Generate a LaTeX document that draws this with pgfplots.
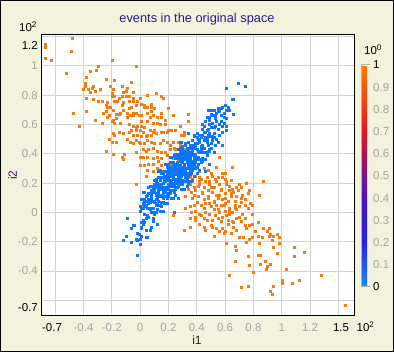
\documentclass[border=0pt]{standalone}
\usepackage{pgfplots}
\pgfplotsset{compat=1.18}
\usepackage{fontspec}
\setmainfont{Liberation Sans}
\definecolor{bgc}{RGB}{243,242,220}
\definecolor{orng}{RGB}{255,120,10}
\definecolor{blu}{RGB}{10,118,255}
\definecolor{ttl}{RGB}{40,30,140}
\definecolor{ylab}{RGB}{75,25,90}
\definecolor{tkl}{RGB}{165,165,165}
\newcommand\tickfont{\fontsize{11.5bp}{13bp}\selectfont}
\begin{document}
\begin{tikzpicture}
\useasboundingbox (0,0) rectangle (394bp,352bp);
\fill[bgc] (0,0) rectangle (394bp,352bp);
\draw[black, line width=1bp] (0.5bp,0.5bp) rectangle (393.5bp,351.5bp);
\begin{axis}[
  name=main,
  at={(41bp,37bp)}, anchor=south west,
  width=313bp, height=280bp, scale only axis,
  xmin=-0.70, xmax=1.51, ymin=-0.70, ymax=1.21,
  axis background/.style={fill=white},
  axis line style={line width=1bp},
  xtick={-0.6,-0.4,-0.2,0,0.2,0.4,0.6,0.8,1,1.2,1.4},
  xticklabels={,-0.4,-0.2,0,0.2,0.4,0.6,0.8,1,1.2,},
  ytick={-0.6,-0.4,-0.2,0,0.2,0.4,0.6,0.8,1,1.2},
  yticklabels={,-0.4,-0.2,0,0.2,0.4,0.6,0.8,1,},
  major tick length=0pt,
  grid=major,
  major grid style={line width=1bp, draw=gray!35},
  xticklabel style={font=\tickfont, text=tkl, anchor=base, inner sep=0pt, yshift=-16.5bp},
  yticklabel style={font=\tickfont, text=tkl, anchor=east, inner sep=0pt, xshift=-3bp},
  colormap={cm}{rgb255(0)=(25,140,255) rgb255(2)=(35,35,235) rgb255(4)=(75,20,190) rgb255(5)=(120,20,140) rgb255(6)=(175,20,85) rgb255(7)=(230,20,35) rgb255(10)=(255,125,0)},
  colorbar,
  point meta min=0, point meta max=1,
  colorbar shift/.style={xshift=7bp, yshift=28bp},
  colorbar style={
    width=6bp, height=222bp, scale only axis,
    at={(parent axis.south east)}, anchor=south west,
    ytick={0,0.1,0.2,0.3,0.4,0.5,0.6,0.7,0.8,0.9,1},
    yticklabels={\textcolor{black}{0},0.1,0.2,0.3,0.4,0.5,0.6,0.7,0.8,0.9,\textcolor{black}{1}},
    yticklabel style={font=\tickfont, text=tkl, anchor=west, inner sep=0pt, xshift=6bp},
    major tick length=0pt,
    axis line style={draw=none},
    after end axis/.code={
      \draw[gray!60, line width=1bp] (rel axis cs:0,1) -- ++(9bp,0);
      \draw[gray!60, line width=1bp] (rel axis cs:0,1) -- (rel axis cs:0,0) -- ++(9bp,0);
    },
  },
]
% class 1 (orange)
\addplot[only marks, mark=square*, mark size=1bp, orng, mark options={line width=0.3bp}] coordinates {
(-0.67,1.15) (-0.67,1.13) (-0.48,1.19) (-0.67,1.05) (-0.63,1.04) (-0.49,1.10) (-0.20,1.04) (-0.03,1.00) (-0.30,1.00) (-0.31,0.97) (-0.35,0.96) (-0.52,0.95) (-0.38,0.92) (-0.24,0.91) (-0.18,0.90) (-0.39,0.88) (-0.06,0.89) (-0.39,0.86) (-0.33,0.86) (-0.34,0.85) (-0.32,0.83) (-0.37,0.84) (-0.40,0.84) (-0.28,0.84) (-0.35,0.82) (-0.21,0.86) (-0.19,0.84) (-0.13,0.86) (-0.10,0.83) (-0.12,0.82) (-0.09,0.85) (-0.05,0.82) (-0.20,0.81) (-0.20,0.79) (-0.18,0.79) (-0.15,0.78) (-0.13,0.79) (-0.10,0.79) (-0.08,0.79) (-0.05,0.78) (0.00,0.78) (-0.38,0.78) (-0.33,0.77) (-0.30,0.76) (-0.27,0.76) (-0.23,0.75) (-0.18,0.76) (-0.16,0.76) (-0.12,0.75) (-0.08,0.76) (-0.05,0.76) (-0.02,0.76) (0.01,0.74) (0.03,0.73) (-0.24,0.73) (-0.23,0.72) (-0.21,0.72) (-0.13,0.73) (-0.06,0.72) (-0.03,0.73) (0.03,0.72) (-0.38,0.69) (-0.47,0.68) (-0.26,0.68) (-0.24,0.69) (-0.19,0.70) (-0.17,0.67) (-0.15,0.67) (-0.14,0.68) (-0.12,0.70) (-0.09,0.68) (-0.08,0.71) (-0.05,0.68) (-0.03,0.68) (-0.23,0.65) (-0.22,0.66) (-0.19,0.63) (-0.17,0.64) (-0.09,0.65) (-0.07,0.66) (-0.05,0.66) (-0.01,0.66) (0.01,0.66) (0.01,0.62) (-0.32,0.63) (-0.27,0.61) (-0.20,0.62) (-0.18,0.61) (-0.14,0.61) (-0.43,0.59) (-0.08,0.60) (-0.05,0.59) (-0.03,0.58) (-0.02,0.59) (0.01,0.59) (0.03,0.58) (-0.06,0.56) (-0.03,0.56) (0.00,0.56) (0.02,0.55) (-0.19,0.54) (-0.15,0.55) (-0.18,0.53) (-0.12,0.54) (-0.08,0.55) (-0.05,0.53) (-0.02,0.53) (0.01,0.52) (0.04,0.52) (-0.22,0.50) (-0.20,0.48) (-0.17,0.48) (-0.09,0.50) (-0.07,0.48) (-0.05,0.47) (-0.03,0.49) (-0.01,0.48) (0.00,0.47) (0.03,0.47) (-0.24,0.42) (-0.19,0.40) (-0.13,0.38) (-0.11,0.40) (-0.12,0.36) (-0.03,0.41) (0.00,0.38) (0.02,0.43) (0.04,0.42) (0.02,0.38) (0.00,0.32) (0.03,0.32)
(0.05,0.80) (0.11,0.81) (0.15,0.79) (0.16,0.78) (0.05,0.72) (0.08,0.74) (0.08,0.72) (0.10,0.71) (0.05,0.68) (0.08,0.69) (0.07,0.65) (0.09,0.66) (0.12,0.65) (0.15,0.68) (0.15,0.65) (0.20,0.71) (0.23,0.66) (0.34,0.67) (0.34,0.62) (0.05,0.62) (0.09,0.61) (0.12,0.61) (0.14,0.60) (0.18,0.63) (0.18,0.60) (0.28,0.59) (0.20,0.56)
(0.07,0.56) (0.09,0.55) (0.10,0.56) (0.05,0.53) (0.08,0.53) (0.11,0.54) (0.15,0.55) (0.16,0.55) (0.19,0.55) (0.22,0.56) (0.25,0.56) (0.31,0.55) (0.31,0.53) (0.29,0.53) (0.05,0.49) (0.08,0.48) (0.10,0.47) (0.14,0.47) (0.16,0.49) (0.19,0.48) (0.21,0.46) (0.23,0.48) (0.27,0.48) (0.28,0.46) (0.24,0.44) (0.09,0.44) (0.06,0.43) (0.12,0.42) (0.15,0.41) (0.18,0.41) (0.21,0.43) (0.25,0.43) (0.28,0.41) (0.31,0.43) (0.34,0.40) (0.05,0.38) (0.09,0.37) (0.12,0.38) (0.15,0.37) (0.19,0.39) (0.23,0.37) (0.27,0.36) (0.30,0.35) (0.32,0.39) (0.06,0.33) (0.09,0.33) (0.13,0.35) (0.15,0.32) (0.18,0.33) (0.21,0.32) (0.24,0.32) (0.28,0.31) (0.31,0.32) (0.05,0.29) (0.09,0.28) (0.12,0.30) (0.16,0.28) (0.19,0.27) (0.23,0.28) (0.26,0.27) (0.29,0.30)
(0.56,0.38) (0.65,0.31) (0.54,0.31) (0.58,0.27) (0.60,0.27) (0.48,0.29) (0.50,0.27) (0.42,0.28) (0.45,0.30)
(-0.03,0.19) (0.04,0.25) (0.02,0.05)
(0.35,0.24) (0.39,0.25) (0.43,0.23) (0.47,0.24) (0.51,0.25) (0.55,0.24) (0.60,0.23) (0.64,0.22) (0.32,0.22) (0.37,0.21) (0.42,0.21) (0.49,0.21) (0.54,0.21) (0.58,0.24)
(0.35,0.19) (0.38,0.17) (0.42,0.19) (0.45,0.17) (0.49,0.19) (0.52,0.17) (0.56,0.19) (0.61,0.19) (0.65,0.16) (0.68,0.17) (0.71,0.17) (0.75,0.20) (0.77,0.15) (0.34,0.16)
(0.36,0.14) (0.39,0.15) (0.44,0.13) (0.48,0.15) (0.51,0.14) (0.54,0.12) (0.57,0.15) (0.60,0.13) (0.63,0.15) (0.66,0.14) (0.69,0.15) (0.72,0.12) (0.76,0.13)
(0.32,0.11) (0.37,0.10) (0.41,0.11) (0.45,0.09) (0.48,0.10) (0.52,0.08) (0.55,0.10) (0.58,0.09) (0.62,0.08) (0.64,0.11) (0.67,0.08) (0.71,0.10) (0.74,0.09) (0.78,0.06)
(0.35,0.04) (0.38,0.05) (0.43,0.05) (0.46,0.06) (0.50,0.04) (0.54,0.05) (0.57,0.05) (0.60,0.06) (0.63,0.03) (0.67,0.05) (0.70,0.04) (0.74,0.05) (0.76,0.03)
(0.32,0.03) (0.36,0.00) (0.39,0.01) (0.42,-0.01) (0.46,0.00) (0.49,-0.01) (0.52,0.02) (0.56,0.00) (0.60,0.01) (0.63,-0.01) (0.65,0.00) (0.68,0.02) (0.72,-0.01)
(0.23,-0.02) (0.35,-0.04) (0.39,-0.03) (0.45,-0.04) (0.51,-0.05) (0.55,-0.04) (0.58,-0.03) (0.62,-0.05) (0.65,-0.06) (0.68,-0.04) (0.71,-0.06)
(0.42,-0.08) (0.35,-0.10) (0.45,-0.10) (0.50,-0.09) (0.54,-0.11) (0.58,-0.11) (0.62,-0.08) (0.66,-0.10) (0.75,-0.11) (0.74,-0.09) (0.77,-0.09)
(0.31,-0.12) (0.52,-0.16) (0.56,-0.13) (0.59,-0.14) (0.64,-0.14) (0.70,-0.17) (0.73,-0.17) (0.75,-0.20) (0.77,-0.18) (0.61,-0.21)
(0.67,-0.23) (0.68,-0.26) (0.67,-0.33) (0.63,-0.43) (0.76,-0.30) (0.77,-0.36) (0.71,-0.51) (0.76,-0.50)
(0.37,0.23) (0.41,0.18) (0.46,0.21) (0.50,0.17) (0.53,0.23) (0.57,0.16) (0.61,0.21) (0.44,0.14) (0.48,0.11) (0.52,0.07) (0.56,0.12) (0.60,0.10) (0.64,0.13) (0.68,0.11) (0.40,0.07) (0.45,0.03) (0.49,0.06) (0.55,0.02) (0.59,0.05) (0.63,0.01) (0.67,0.03) (0.71,0.07) (0.43,-0.02) (0.47,-0.05) (0.53,-0.02) (0.57,-0.06) (0.61,-0.02) (0.66,-0.07) (0.70,-0.03) (0.74,-0.04) (0.38,0.12) (0.42,0.24) (0.58,0.24) (0.63,0.18) (0.70,0.19) (0.51,-0.10) (0.60,-0.13) (0.68,-0.12) (0.46,-0.12) (0.39,-0.05)
(0.87,0.21) (0.84,0.12) (0.79,0.05) (0.79,-0.01) (0.83,-0.07) (0.79,-0.08) (0.87,-0.11) (0.91,-0.11) (0.81,-0.13) (0.90,-0.13) (0.83,-0.16) (0.92,-0.15) (0.91,-0.16) (0.94,-0.16) (0.97,-0.15) (0.79,-0.17) (0.86,-0.17) (0.98,-0.17) (0.93,-0.19) (0.84,-0.21) (0.98,-0.21) (1.09,-0.24) (0.94,-0.24) (1.16,-0.27) (0.83,-0.29) (0.85,-0.29) (1.09,-0.30) (0.97,-0.28) (0.88,-0.33) (0.85,-0.35) (0.92,-0.35) (0.90,-0.37) (0.89,-0.39) (1.03,-0.39) (0.80,-0.41) (1.28,-0.43) (1.00,-0.46) (1.12,-0.46) (1.00,-0.48) (1.07,-0.48) (0.94,-0.50) (0.92,-0.54) (0.93,-0.56) (1.45,-0.63)
};
% class 0 (blue)
\addplot[only marks, mark=square*, mark size=1bp, blu, mark options={line width=0.3bp}] coordinates {
(0.69,0.88) (0.74,0.86) (0.61,0.85) (0.65,0.77) (0.66,0.77) (0.60,0.73) (0.58,0.72) (0.57,0.71) (0.55,0.70) (0.62,0.72) (0.61,0.70) (0.63,0.70) (0.66,0.67) (0.54,0.68) (0.50,0.70) (0.48,0.70) (0.51,0.66) (0.57,0.66) (0.59,0.65) (0.61,0.64) (0.47,0.65) (0.49,0.65) (0.46,0.62) (0.49,0.63) (0.54,0.62) (0.59,0.61) (0.56,0.60) (0.61,0.59) (0.61,0.56) (0.58,0.55) (0.53,0.59) (0.50,0.58) (0.48,0.57) (0.46,0.55) (0.44,0.60) (0.52,0.54) (0.51,0.50) (0.48,0.53) (0.45,0.50) (0.42,0.49) (0.38,0.52) (0.47,0.48) (0.58,0.46) (0.44,0.46) (0.39,0.45) (0.35,0.46) (0.32,0.46) (0.37,0.42) (0.43,0.41) (0.49,0.42) (0.47,0.39) (0.41,0.38) (0.36,0.39) (0.32,0.40) (0.28,0.40) (0.30,0.37) (0.34,0.35) (0.39,0.35) (0.44,0.35) (0.49,0.33) (0.28,0.32) (0.24,0.33) (0.22,0.31) (0.25,0.29) (0.31,0.30) (0.37,0.31) (0.42,0.29) (0.46,0.28) (0.35,0.27) (0.29,0.27) (0.23,0.27)
(0.04,0.08) (0.03,0.07) (0.01,0.03) (0.00,0.01) (0.04,-0.04) (-0.09,-0.04) (-0.05,-0.09) (-0.04,-0.09) (-0.06,-0.11) (0.01,-0.07) (0.02,-0.08) (0.01,-0.10) (0.01,-0.11) (0.04,-0.12) (0.03,-0.07) (-0.02,-0.14) (-0.01,-0.15) (0.01,-0.16) (0.04,-0.17) (-0.10,-0.16) (-0.12,-0.19) (-0.06,-0.20) (-0.03,-0.18) (-0.02,-0.19) (0.00,-0.18) (0.00,-0.22) (-0.02,-0.29)
(0.12,-0.08) (0.09,-0.06) (0.08,-0.10) (0.07,-0.12) (0.05,-0.17) (0.05,-0.02) (0.10,-0.01) (0.07,0.03) (0.24,0.00) (0.06,-0.03) (0.09,-0.04) (0.03,-0.01) (0.11,0.00) (0.02,-0.05)
(0.07,0.02) (0.10,0.00) (0.03,0.04) (0.14,0.01) (0.05,0.03) (0.12,0.02) (0.00,0.04) (0.08,0.00) (0.02,0.03) (0.16,0.01)
(0.10,0.07) (0.13,0.05) (0.06,0.09) (0.17,0.06) (0.08,0.08) (0.15,0.07) (0.03,0.09) (0.11,0.05) (0.05,0.08) (0.19,0.06) (0.07,0.07) (0.14,0.05) (0.01,0.09) (0.12,0.06) (0.09,0.08) (0.16,0.07)
(0.19,0.11) (0.07,0.13) (0.15,0.12) (0.09,0.14) (0.23,0.10) (0.11,0.13) (0.18,0.11) (0.05,0.12) (0.16,0.10) (0.13,0.14) (0.20,0.11) (0.08,0.13) (0.25,0.12) (0.03,0.14) (0.22,0.10) (0.06,0.13) (0.17,0.11) (0.11,0.12) (0.27,0.10) (0.02,0.14) (0.14,0.11) (0.19,0.13)
(0.15,0.19) (0.22,0.15) (0.09,0.18) (0.20,0.16) (0.17,0.17) (0.24,0.15) (0.12,0.19) (0.29,0.16) (0.07,0.18) (0.26,0.17) (0.10,0.19) (0.21,0.15) (0.15,0.18) (0.31,0.16) (0.06,0.17) (0.18,0.15) (0.23,0.19) (0.13,0.16) (0.20,0.18) (0.16,0.17) (0.28,0.19) (0.08,0.15) (0.24,0.18) (0.14,0.16) (0.18,0.17) (0.21,0.15) (0.14,0.19) (0.25,0.16)
(0.28,0.20) (0.16,0.24) (0.33,0.21) (0.11,0.23) (0.30,0.22) (0.14,0.24) (0.25,0.20) (0.19,0.23) (0.35,0.21) (0.10,0.22) (0.22,0.20) (0.27,0.24) (0.17,0.21) (0.24,0.23) (0.20,0.22) (0.32,0.24) (0.12,0.20) (0.28,0.23) (0.18,0.21) (0.22,0.22) (0.25,0.20) (0.18,0.24) (0.29,0.21) (0.20,0.23) (0.27,0.22) (0.15,0.24) (0.23,0.20) (0.17,0.23) (0.31,0.21) (0.19,0.22) (0.26,0.20) (0.13,0.24)
(0.17,0.28) (0.28,0.27) (0.22,0.29) (0.38,0.25) (0.13,0.28) (0.25,0.26) (0.30,0.27) (0.20,0.25) (0.27,0.29) (0.23,0.26) (0.35,0.28) (0.15,0.27) (0.31,0.29) (0.21,0.25) (0.25,0.28) (0.28,0.26) (0.21,0.27) (0.32,0.25) (0.23,0.29) (0.30,0.26) (0.18,0.28) (0.26,0.27) (0.20,0.29) (0.34,0.25) (0.22,0.28) (0.29,0.26) (0.16,0.27) (0.27,0.25) (0.24,0.29) (0.31,0.26) (0.19,0.28) (0.36,0.27) (0.14,0.29) (0.33,0.25)
(0.29,0.30) (0.34,0.33) (0.24,0.31) (0.31,0.32) (0.27,0.30) (0.39,0.34) (0.19,0.31) (0.35,0.33) (0.25,0.32) (0.29,0.34) (0.32,0.30) (0.25,0.33) (0.36,0.31) (0.27,0.32) (0.34,0.30) (0.22,0.34) (0.30,0.31) (0.24,0.33) (0.38,0.32) (0.26,0.34) (0.33,0.30) (0.20,0.33) (0.31,0.31) (0.28,0.32) (0.35,0.30) (0.23,0.34) (0.40,0.31) (0.18,0.33) (0.37,0.32) (0.21,0.34) (0.32,0.30) (0.26,0.33)
(0.29,0.39) (0.40,0.36) (0.31,0.38) (0.38,0.37) (0.26,0.39) (0.34,0.35) (0.28,0.38) (0.42,0.36) (0.30,0.37) (0.37,0.35) (0.24,0.39) (0.35,0.36) (0.32,0.38) (0.39,0.37) (0.27,0.39) (0.44,0.35) (0.22,0.38) (0.41,0.36) (0.25,0.37) (0.36,0.35) (0.30,0.39) (0.46,0.36) (0.21,0.38) (0.33,0.37) (0.38,0.39) (0.28,0.35) (0.35,0.38) (0.31,0.36)
(0.28,0.42) (0.39,0.44) (0.36,0.40) (0.43,0.43) (0.31,0.41) (0.48,0.42) (0.26,0.40) (0.45,0.44) (0.29,0.41) (0.40,0.43) (0.34,0.42) (0.50,0.44) (0.25,0.40) (0.37,0.43) (0.42,0.41) (0.32,0.42) (0.39,0.40) (0.35,0.44) (0.47,0.41) (0.27,0.43) (0.43,0.42) (0.33,0.44) (0.37,0.40) (0.40,0.43)
(0.29,0.48) (0.48,0.46) (0.32,0.47) (0.43,0.45) (0.37,0.49) (0.53,0.46) (0.28,0.48) (0.40,0.47) (0.45,0.49) (0.35,0.45) (0.42,0.48) (0.38,0.46) (0.50,0.47) (0.30,0.45) (0.46,0.49) (0.36,0.46)
(0.46,0.51) (0.42,0.53) (0.54,0.50) (0.34,0.54) (0.50,0.52) (0.40,0.51) (0.44,0.53) (0.47,0.50) (0.40,0.54) (0.51,0.52)
(0.04,0.05) (0.09,0.03) (0.13,0.08) (0.06,0.06) (0.11,0.09) (0.15,0.04) (0.02,0.06) (0.08,0.10)
(0.12,0.10) (0.17,0.14) (0.10,0.15) (0.21,0.13) (0.13,0.12) (0.24,0.14) (0.08,0.11) (0.16,0.13) (0.19,0.10) (0.04,0.11)
(0.19,0.16) (0.22,0.18) (0.11,0.17) (0.27,0.18) (0.16,0.15) (0.30,0.19) (0.13,0.18) (0.25,0.17) (0.09,0.16) (0.20,0.19) (0.33,0.18) (0.17,0.16)
(0.21,0.21) (0.26,0.23) (0.14,0.22) (0.30,0.20) (0.23,0.24) (0.33,0.23) (0.16,0.20) (0.25,0.22) (0.37,0.22) (0.19,0.25) (0.29,0.25) (0.11,0.21) (0.34,0.20)
(0.24,0.26) (0.29,0.28) (0.19,0.26) (0.33,0.27) (0.26,0.30) (0.37,0.29) (0.17,0.25) (0.28,0.29) (0.32,0.28) (0.22,0.27) (0.40,0.27) (0.35,0.26)
(0.28,0.31) (0.33,0.34) (0.23,0.32) (0.37,0.33) (0.30,0.35) (0.41,0.33) (0.26,0.30) (0.34,0.32) (0.21,0.31) (0.39,0.30) (0.43,0.34) (0.31,0.33)
(0.32,0.36) (0.36,0.39) (0.27,0.37) (0.40,0.38) (0.34,0.40) (0.44,0.37) (0.29,0.36) (0.38,0.36) (0.25,0.38) (0.47,0.39) (0.33,0.39)
(0.36,0.41) (0.41,0.42) (0.30,0.43) (0.45,0.41) (0.38,0.44) (0.49,0.43) (0.33,0.40) (0.44,0.45) (0.28,0.44) (0.52,0.41)
(0.39,0.47) (0.44,0.46) (0.34,0.48) (0.47,0.48) (0.41,0.50) (0.51,0.49) (0.37,0.45) (0.55,0.48)
(0.43,0.51) (0.48,0.52) (0.38,0.53) (0.52,0.51) (0.45,0.55) (0.56,0.53) (0.41,0.50) (0.49,0.54)
(0.47,0.56) (0.52,0.58) (0.44,0.57) (0.55,0.57) (0.49,0.60) (0.57,0.62) (0.51,0.61) (0.45,0.59) (0.53,0.64) (0.58,0.59)
(0.53,0.66) (0.56,0.69) (0.50,0.67) (0.59,0.68) (0.55,0.71) (0.52,0.70)
};
\end{axis}
\node[ttl, font=\fontsize{12.8bp}{15bp}\selectfont, anchor=base] at (197bp,329bp) {events in the original space};
\node[font=\tickfont, anchor=base, inner sep=0pt] at (52bp,20.5bp) {-0.7};
\node[font=\tickfont, anchor=base, inner sep=0pt] at (341bp,20.5bp) {1.5};
\node[font=\tickfont, anchor=base west, inner sep=0pt] at (356.5bp,20.5bp) {10\textsuperscript{2}};
\node[font=\tickfont, anchor=east, inner sep=0pt] at (38bp,307bp) {1.2};
\node[font=\tickfont, anchor=east, inner sep=0pt] at (38bp,44bp) {-0.7};
\node[font=\tickfont, anchor=base west, inner sep=0pt] at (19bp,320bp) {10\textsuperscript{2}};
\node[font=\tickfont, anchor=base west, inner sep=0pt] at (364bp,297bp) {10\textsuperscript{0}};
\node[font=\fontsize{12bp}{14bp}\selectfont, anchor=base, inner sep=0pt, text=black!85] at (197bp,8bp) {i1};
\node[font=\fontsize{12bp}{14bp}\selectfont, rotate=90, anchor=center, inner sep=0pt, text=ylab] at (12.5bp,177bp) {i2};
\end{tikzpicture}
\end{document}
